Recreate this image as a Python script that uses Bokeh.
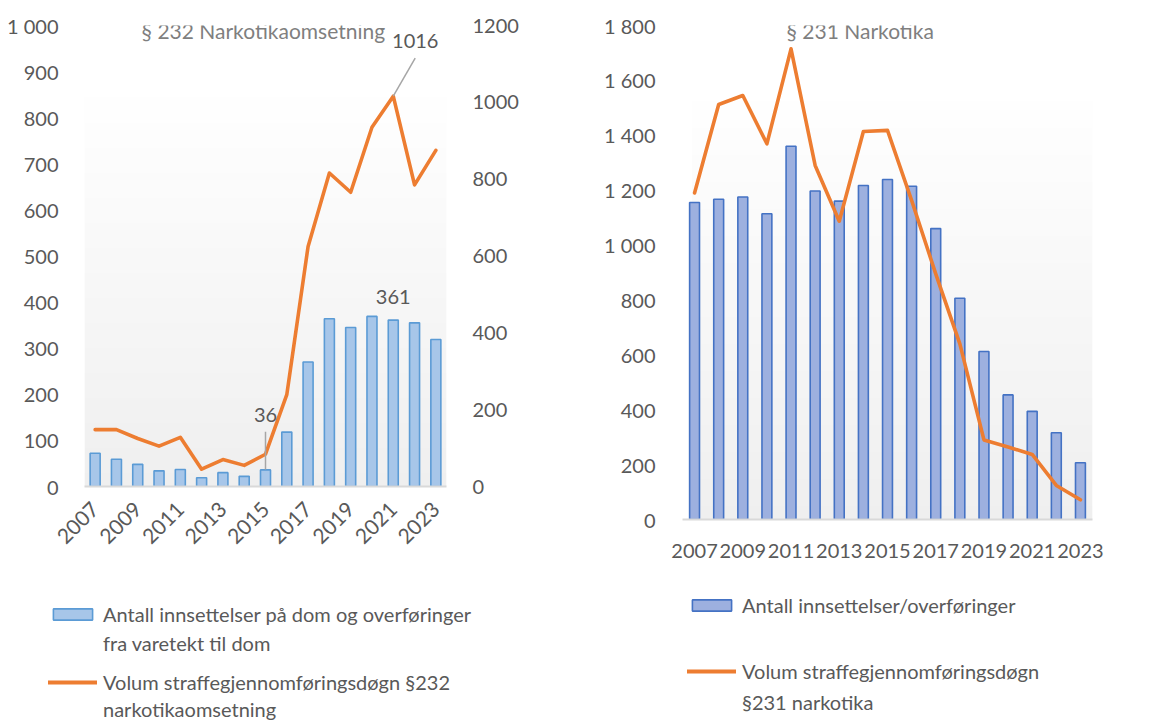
import numpy as np
from bokeh.plotting import figure
from bokeh.models import (Range1d, LinearAxis, FixedTicker, CustomJSTickFormatter,
                          Legend, LegendItem, Label, ColumnDataSource)
from bokeh.layouts import row, column
from bokeh.embed import file_html
from bokeh.resources import INLINE
from math import pi

# ---------------- data ----------------
years = list(range(2007, 2024))
innsett_232 = [72, 59, 48, 34, 37, 19, 30, 22, 36, 118, 270, 364, 345, 369, 361, 355, 319]
volum_232 = [148, 148, 125, 105, 128, 45, 70, 55, 84, 239, 625, 816, 766, 935, 1016, 785, 875]
innsett_231 = [1155, 1167, 1175, 1114, 1360, 1197, 1160, 1217, 1239, 1214, 1060, 806, 612, 454, 394, 316, 207]
volum_231 = [1190, 1512, 1545, 1369, 1715, 1290, 1087, 1414, 1418, 1163, 895, 640, 290, 264, 237, 124, 72]
label_years = years[::2]
left_ticks = list(range(0, 1001, 100))
right_ticks = list(range(0, 1201, 200))
ticks_231 = list(range(0, 1801, 200))

title_232 = "§ 232 Narkotikaomsetning"
title_231 = "§ 231 Narkotika"
leg_bar_232 = ["Antall innsettelser på dom og overføringer", "fra varetekt til dom"]
leg_line_232 = ["Volum straffegjennomføringsdøgn §232", "narkotikaomsetning"]
leg_bar_231 = ["Antall innsettelser/overføringer"]
leg_line_231 = ["Volum straffegjennomføringsdøgn", "§231 narkotika"]

FONT = "Lato"
TXT = "#595959"
ORANGE = "#ed7d31"
BAR1_FILL, BAR1_LINE = "#a7c6e9", "#5b9bd5"
BAR2_FILL, BAR2_LINE = "#9db0df", "#4472c4"

fmt_space = CustomJSTickFormatter(code="return Math.round(tick).toString().replace(/\\B(?=(\\d{3})+(?!\\d))/g, ' ');")


def gradient(n=96, top=(255, 255, 255), bottom=(239, 239, 239)):
    img = np.empty((n, 1), dtype=np.uint32)
    view = img.view(dtype=np.uint8).reshape((n, 1, 4))
    for i in range(n):
        t = i / (n - 1)
        c = [int(round(bottom[k] * (1 - t) + top[k] * t)) for k in range(3)]
        view[i, 0, :] = [c[0], c[1], c[2], 255]
    return img


def style_axis(ax, size="20px"):
    ax.axis_line_color = None
    ax.major_tick_line_color = None
    ax.minor_tick_line_color = None
    ax.major_label_text_font = FONT
    ax.major_label_text_font_size = size
    ax.major_label_text_color = TXT


def make_legend(items, loc, spacing):
    return Legend(items=items, location=loc, orientation="vertical",
                  background_fill_alpha=0, border_line_alpha=0,
                  inactive_fill_alpha=0,
                  label_text_font=FONT, label_text_font_size="20px", label_text_color=TXT,
                  glyph_width=49, glyph_height=14, label_standoff=6, spacing=spacing,
                  padding=0, margin=0, label_height=20)


def legend_fig(width, height):
    # separate panel that only shows the legend; its renderers are hidden
    f = figure(width=width, height=height,
               x_range=Range1d(years[0] - 0.5, years[-1] + 0.5), y_range=Range1d(0, 2000),
               output_backend="svg", toolbar_location=None,
               x_axis_location=None, y_axis_location=None,
               min_border_left=0, min_border_right=0, min_border_top=0, min_border_bottom=0)
    f.outline_line_color = None
    f.grid.visible = False
    f.frame_align = False
    return f


TOP_H = 575
LEG_H = 147

# ---------------- left chart ----------------
xr = Range1d(years[0] - 0.5, years[-1] + 0.5)
p1 = figure(width=578, height=TOP_H, x_range=xr, y_range=Range1d(0, 1000),
            output_backend="svg", toolbar_location=None,
            min_border_left=84, min_border_right=132, min_border_top=25, min_border_bottom=89)
p1.frame_align = False
p1.extra_y_ranges = {"right": Range1d(0, 1200)}
p1.outline_line_color = None
p1.grid.visible = False

p1.image_rgba(image=[gradient()], x=years[0] - 0.5, y=0, dw=len(years), dh=870)

src1 = ColumnDataSource(dict(x=years, bar=innsett_232, vol=volum_232))
p1.vbar(x="x", top="bar", width=0.47, source=src1,
        fill_color=BAR1_FILL, line_color=BAR1_LINE, line_width=1.6)
p1.line(x="x", y="vol", source=src1, y_range_name="right",
        line_color=ORANGE, line_width=3.6, line_join="round", line_cap="round")

p1.yaxis.ticker = FixedTicker(ticks=left_ticks)
p1.yaxis.formatter = fmt_space
style_axis(p1.yaxis[0])
p1.yaxis.major_label_standoff = 20

rax = LinearAxis(y_range_name="right", ticker=FixedTicker(ticks=right_ticks))
style_axis(rax)
rax.major_label_standoff = 20
p1.add_layout(rax, "right")

p1.xaxis.ticker = FixedTicker(ticks=label_years)
style_axis(p1.xaxis[0], size="21px")
p1.xaxis.axis_line_color = "#d9d9d9"
p1.xaxis.axis_line_width = 2
p1.xaxis.major_label_orientation = pi / 4
p1.xaxis.major_label_standoff = 13

# annotations
i21 = years.index(2021)
i15 = years.index(2015)
p1.segment(x0=[years[i21]], y0=[volum_232[i21]], x1=[years[i21] + 1.03], y1=[volum_232[i21] + 99],
           y_range_name="right", line_color="#a6a6a6", line_width=1.5)
p1.add_layout(Label(x=years[i21], y=volum_232[i21], y_range_name="right", x_offset=22, y_offset=48,
                    text=str(volum_232[i21]), text_align="center", text_baseline="bottom",
                    text_font=FONT, text_font_size="20px", text_color=TXT))
p1.add_layout(Label(x=years[i21], y=innsett_232[i21], y_offset=16,
                    text=str(innsett_232[i21]), text_align="center", text_baseline="bottom",
                    text_font=FONT, text_font_size="20px", text_color=TXT))
p1.segment(x0=[years[i15]], y0=[innsett_232[i15] + 1], x1=[years[i15]], y1=[innsett_232[i15] + 83],
           line_color="#a6a6a6", line_width=1.5)
p1.add_layout(Label(x=years[i15], y=innsett_232[i15], y_offset=48,
                    text=str(innsett_232[i15]), text_align="center", text_baseline="bottom",
                    text_font=FONT, text_font_size="20px", text_color=TXT))
p1.add_layout(Label(x=(years[0] + years[-1]) / 2 - 0.1, y=989, text=title_232,
                    text_align="center", text_baseline="middle",
                    text_font=FONT, text_font_size="21px", text_color="#7f7f7f"))

# left legend
l1 = legend_fig(578, LEG_H)
lb1 = l1.vbar(x=years, top=innsett_232, width=0.5, fill_color=BAR1_FILL, line_color=BAR1_LINE, line_width=1.6)
ll1 = l1.line(x=years, y=volum_232, line_color=ORANGE, line_width=4, line_cap="round")
ld1 = l1.line(x=years, y=innsett_232, line_alpha=0)
ld2 = l1.line(x=years, y=volum_232, line_alpha=0)
for r in (lb1, ll1, ld1, ld2):
    r.visible = False
l1.add_layout(make_legend([LegendItem(label=leg_bar_232[0], renderers=[lb1]),
                           LegendItem(label=leg_bar_232[1], renderers=[ld1])], (48, 67), 5))
l1.add_layout(make_legend([LegendItem(label=leg_line_232[0], renderers=[ll1]),
                           LegendItem(label=leg_line_232[1], renderers=[ld2])], (48, 1), 3))

# ---------------- right chart ----------------
xr2 = Range1d(years[0] - 0.5, years[-1] + 0.5)
p2 = figure(width=573, height=TOP_H, x_range=xr2, y_range=Range1d(0, 1800),
            output_backend="svg", toolbar_location=None,
            min_border_left=104, min_border_right=59, min_border_top=25, min_border_bottom=56)
p2.frame_align = False
p2.outline_line_color = None
p2.grid.visible = False

p2.image_rgba(image=[gradient()], x=years[0] - 0.1, y=0, dw=len(years) - 0.4, dh=1571)

src2 = ColumnDataSource(dict(x=years, bar=innsett_231, vol=volum_231))
p2.vbar(x="x", top="bar", width=0.41, source=src2,
        fill_color=BAR2_FILL, line_color=BAR2_LINE, line_width=1.6)
p2.line(x="x", y="vol", source=src2,
        line_color=ORANGE, line_width=3.6, line_join="round", line_cap="round")

p2.yaxis.ticker = FixedTicker(ticks=ticks_231)
p2.yaxis.formatter = fmt_space
style_axis(p2.yaxis[0])
p2.yaxis.major_label_standoff = 21

p2.xaxis.ticker = FixedTicker(ticks=label_years)
style_axis(p2.xaxis[0])
p2.xaxis.axis_line_color = "#d9d9d9"
p2.xaxis.axis_line_width = 2
p2.xaxis.major_label_standoff = 18

p2.add_layout(Label(x=2013.87, y=1782, text=title_231,
                    text_align="center", text_baseline="middle",
                    text_font=FONT, text_font_size="21px", text_color="#7f7f7f"))

# right legend
l2 = legend_fig(573, LEG_H)
lb2 = l2.vbar(x=years, top=innsett_231, width=0.5, fill_color=BAR2_FILL, line_color=BAR2_LINE, line_width=1.6)
ll2 = l2.line(x=years, y=volum_231, line_color=ORANGE, line_width=4, line_cap="round")
ld3 = l2.line(x=years, y=volum_231, line_alpha=0)
for r in (lb2, ll2, ld3):
    r.visible = False
l2.add_layout(make_legend([LegendItem(label=leg_bar_231[0], renderers=[lb2])], (109, 105), 5))
l2.add_layout(make_legend([LegendItem(label=leg_line_231[0], renderers=[ll2]),
                           LegendItem(label=leg_line_231[1], renderers=[ld3])], (109, 8), 7))

layout = row(column(p1, l1), column(p2, l2))
open("out.html", "w").write(file_html(layout, INLINE))
